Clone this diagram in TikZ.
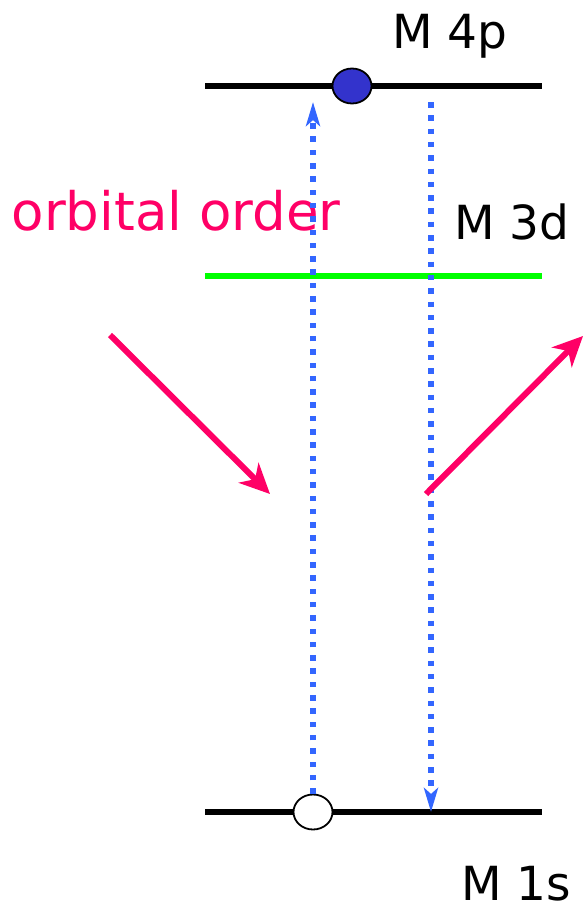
\documentclass[tikz,border=0pt]{standalone}
\usepackage{fontspec}
\setmainfont{DejaVu Sans}
\usetikzlibrary{arrows.meta,shapes.geometric}
\definecolor{pinkred}{RGB}{255,0,102}
\definecolor{dotblue}{RGB}{51,102,255}
\definecolor{elecblue}{RGB}{51,51,204}
\definecolor{brightgreen}{RGB}{0,255,0}

\begin{document}
\begin{tikzpicture}[x=1pt,y=-1pt,
  level/.style={line width=6pt},
  orb/.style={draw,line width=1.8pt,ellipse,inner sep=0pt,minimum width=39pt,minimum height=35pt},
  lab/.style={inner sep=0pt,font=\fontsize{47}{52}\selectfont},
  trans/.style={dotblue,line width=6pt,dash pattern=on 5.5pt off 7.8pt,
    -{Stealth[length=24pt,width=14pt,inset=6pt]}},
  scat/.style={pinkred,line width=6pt,-{Stealth[length=30pt,width=28pt,inset=9pt]}}]
\useasboundingbox (0,0) rectangle (582,918);
% energy levels
\draw[level] (205,86) coordinate (l4pA) -- (542,86) coordinate (l4pB);
\draw[level,brightgreen] (205,276) coordinate (l3dA) -- (542,276) coordinate (l3dB);
\draw[level] (205,812) coordinate (l1sA) -- (542,812) coordinate (l1sB);
\node[orb,fill=elecblue] (elec) at (352,86) {};
\node[orb,fill=white] (hole) at (313,812) {};
% labels
\node[lab] (t4p) at (450,36) {M 4p};
\node[lab] (t3d) at (512,222) {M 3d};
\node[lab] (t1s) at (516,884) {M 1s};
\node[pinkred,inner sep=0pt,font=\fontsize{53}{60}\selectfont] (oo) at (176,211) {orbital order};
% transitions
\coordinate (upEnd) at (313,102);
\coordinate (dnStart) at (431,102);
\coordinate (dnEnd) at (431,812);
\draw[trans] (hole.north) -- (upEnd);
\draw[trans] (dnStart) -- (dnEnd);
% incoming / outgoing photon
\coordinate (inA) at (110,335);
\coordinate (inB) at (270,494);
\coordinate (outA) at (426,494);
\coordinate (outB) at (583,336);
\draw[scat] (inA) -- (inB);
\draw[scat] (outA) -- (outB);
\end{tikzpicture}
\end{document}
